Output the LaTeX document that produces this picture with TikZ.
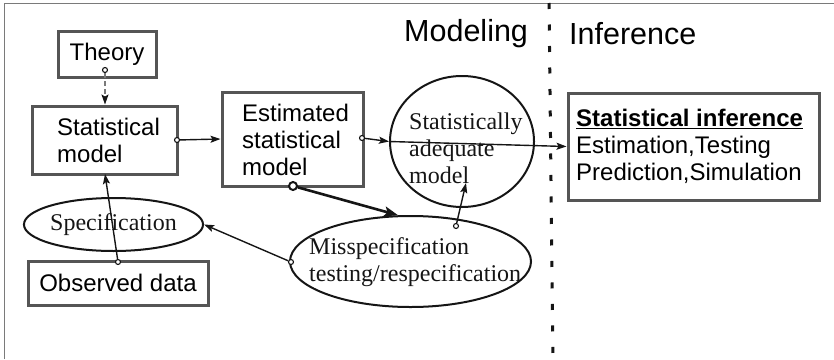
\documentclass[tikz,border=0pt]{standalone}
\usepackage{fontspec}
\setmainfont{Liberation Serif}
\newfontfamily\arialf{Liberation Sans}
\usetikzlibrary{arrows.meta,shapes.geometric}

\definecolor{boxgray}{HTML}{555555}
\definecolor{framegray}{HTML}{7A7A7A}
\definecolor{inkdark}{HTML}{151515}

\tikzset{
  box/.style={draw=boxgray, line width=3pt, rectangle, inner sep=0pt},
  oval/.style={draw=inkdark, line width=2pt, ellipse, inner sep=0pt},
  sans/.style={font=\arialf\fontsize{24}{27}\selectfont, text=black},
  serif/.style={font=\fontsize{24}{27}\selectfont, text=inkdark},
  head/.style={font=\arialf\fontsize{30.5}{33}\selectfont, text=black, inner sep=0pt, anchor=west},
  txt/.style={inner sep=0pt, anchor=west, align=left},
  port/.style={circle, draw=inkdark, fill=white, inner sep=0pt, minimum size=5pt, line width=1.1pt},
  bigport/.style={circle, draw=inkdark, fill=white, inner sep=0pt, minimum size=8pt, line width=2pt},
  arr/.style={draw=inkdark, line width=1.4pt, -{Stealth[length=10pt,width=7pt,inset=2pt]}},
  thickarr/.style={draw=inkdark, line width=2.6pt, -{Stealth[length=14pt,width=10pt,inset=3pt]}},
  dasharr/.style={draw=framegray, line width=1.3pt, dash pattern=on 5pt off 3pt,
                  -{Stealth[length=10pt,width=7pt,inset=2pt,color=inkdark]}},
}

% thicker underline for the inference heading
\newcommand{\thickunder}[1]{\setbox0=\hbox{#1}%
  \rlap{\rule[-3pt]{\wd0}{1.6pt}}\box0}

\begin{document}
\begin{tikzpicture}[x=1pt, y=-1pt]
  \useasboundingbox (0,0) rectangle (834,359);

  % open frame: top and left edges only
  \draw[framegray, line width=1.6pt] (4.5,359) -- (4.5,3.5) -- (834,3.5);

  % divider between the two stages
  \draw[inkdark, line width=3pt, dash pattern=on 6pt off 15.5pt] (549,3) -- (553,359);

  % stage titles
  \node[head] (modeling) at (404,34) {Modeling};
  \node[head] (inference) at (569,34) {Inference};

  % boxes
  \node[box, sans, minimum width=98pt, minimum height=46pt] (theory) at (107,54) {Theory};
  \node[box, minimum width=145pt, minimum height=68pt] (sm) at (104.5,140) {};
  \node[txt, sans] (smt) at (57,140.5) {Statistical\\model};
  \node[box, minimum width=141pt, minimum height=94pt] (est) at (292.5,139) {};
  \node[txt, sans] (estt) at (242,140) {Estimated\\statistical\\model};
  \node[box, minimum width=251pt, minimum height=107pt] (inf) at (693.5,146.5) {};
  \node[txt, sans] (inft) at (576,146)
    {\thickunder{\textbf{Statistical inference}}\\Estimation,Testing\\Prediction,Simulation};
  \node[box, sans, minimum width=180pt, minimum height=44pt] (obs) at (118,283) {Observed data};

  % ellipses
  \node[oval, serif, minimum width=157pt, minimum height=53pt] (spec) at (113.5,224.5) {Specification};
  \node[oval, minimum width=144pt, minimum height=131pt] (adq) at (462,141.5) {};
  \node[txt, serif] (adqt) at (409,148.5) {Statistically\\adequate\\model};
  \node[oval, minimum width=241pt, minimum height=91pt] (mis) at (410.5,261.5) {};
  \node[txt, serif] (mist) at (309,262) {Misspecification\\testing/respecification};

  % connector start points and free ends
  \node[port] (pth) at (105,70) {};
  \node[port] (psm) at (177,140) {};
  \node[port] (pest) at (362,138) {};
  \node[bigport] (pestb) at (293,186) {};
  \node[port] (pmt) at (456,226) {};
  \node[port] (pml) at (291,262) {};
  \node[port] (pobs) at (118,262) {};
  \coordinate (adqin) at (466,183);
  \coordinate (smin) at (105,174);

  % connectors
  \draw[dasharr] (pth) -- (pth |- sm.north);
  \draw[arr] (psm) -- (est.west);
  \draw[arr] (pest) -- (adq.west);
  \draw[arr] (adq.west) -- (inf.west);
  \draw[thickarr] (pestb) -- (mis.105);
  \draw[arr] (pmt) -- (adqin);
  \draw[arr] (pml) -- (spec.east);
  \draw[arr] (pobs) -- (smin);
\end{tikzpicture}
\end{document}
